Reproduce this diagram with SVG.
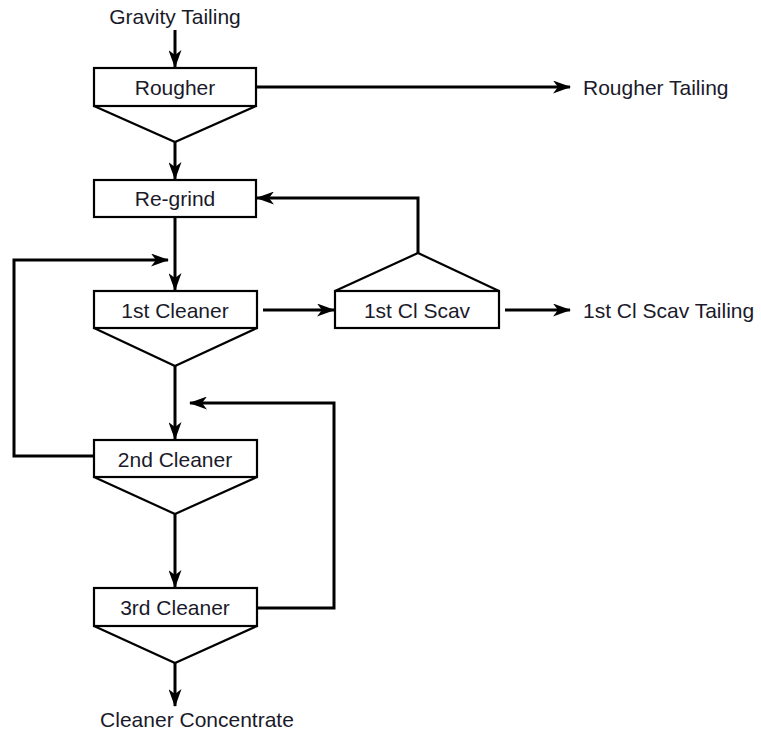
<svg xmlns="http://www.w3.org/2000/svg" width="761" height="731" viewBox="0 0 761 731">
<defs>
<marker id="ah" markerUnits="userSpaceOnUse" viewBox="0 0 18 13" refX="17" refY="6.5" markerWidth="18" markerHeight="13" orient="auto">
<path d="M0,0 L18,6.5 L0,13 L5,6.5 z" fill="#000"/>
</marker>
<style>
.box{fill:#fff;stroke:#000;stroke-width:2.2}
.tri{fill:none;stroke:#000;stroke-width:2.2;stroke-linejoin:miter}
.c{fill:none;stroke:#000;stroke-width:3}
.a{marker-end:url(#ah)}
text{font-family:"Liberation Sans",Arial,sans-serif;font-size:21px;fill:#1a1a2a}
.m{text-anchor:middle}
</style>
</defs>
<rect width="761" height="731" fill="#fff"/>
<g id="connectors">
<path class="c a" d="M175,30 L175,67"/>
<path class="c a" d="M175,142 L175,179"/>
<path class="c a" d="M257,87 L570,87"/>
<path class="c a" d="M175,217 L175,290"/>
<path class="c a" d="M94,456 L14,456 L14,260 L168,260"/>
<path class="c a" d="M263,310 L334,310"/>
<path class="c a" d="M418,253 L418,198 L257,198"/>
<path class="c a" d="M505,310 L570,310"/>
<path class="c a" d="M175,366 L175,439"/>
<path class="c a" d="M175,514 L175,587"/>
<path class="c a" d="M257,608 L334,608 L334,403 L190,403"/>
<path class="c a" d="M175,663 L175,706"/>
</g>
<g id="gravity-tailing"><text class="m" x="175" y="24">Gravity Tailing</text></g>
<g id="rougher">
<rect class="box" x="94" y="68" width="162" height="38"/>
<path class="tri" d="M94,106 L175,142 L256,106"/>
<text class="m" x="175" y="95">Rougher</text>
</g>
<g id="rougher-tailing"><text x="583" y="95">Rougher Tailing</text></g>
<g id="regrind">
<rect class="box" x="94" y="180" width="162" height="37"/>
<text class="m" x="175" y="206">Re-grind</text>
</g>
<g id="cleaner1">
<rect class="box" x="94" y="291" width="163" height="37"/>
<path class="tri" d="M94,328 L175,366 L257,328"/>
<text class="m" x="175" y="318">1st Cleaner</text>
</g>
<g id="scav">
<rect class="box" x="335" y="291" width="164" height="37"/>
<path class="tri" d="M335,291 L418,253 L499,291"/>
<text class="m" x="417" y="318">1st Cl Scav</text>
</g>
<g id="scav-tailing"><text x="583" y="318">1st Cl Scav Tailing</text></g>
<g id="cleaner2">
<rect class="box" x="94" y="440" width="163" height="37"/>
<path class="tri" d="M94,477 L175,514 L257,477"/>
<text class="m" x="175" y="467">2nd Cleaner</text>
</g>
<g id="cleaner3">
<rect class="box" x="94" y="588" width="163" height="38"/>
<path class="tri" d="M94,626 L175,663 L257,626"/>
<text class="m" x="175" y="615">3rd Cleaner</text>
</g>
<g id="cleaner-concentrate"><text class="m" x="197" y="727">Cleaner Concentrate</text></g>
</svg>
